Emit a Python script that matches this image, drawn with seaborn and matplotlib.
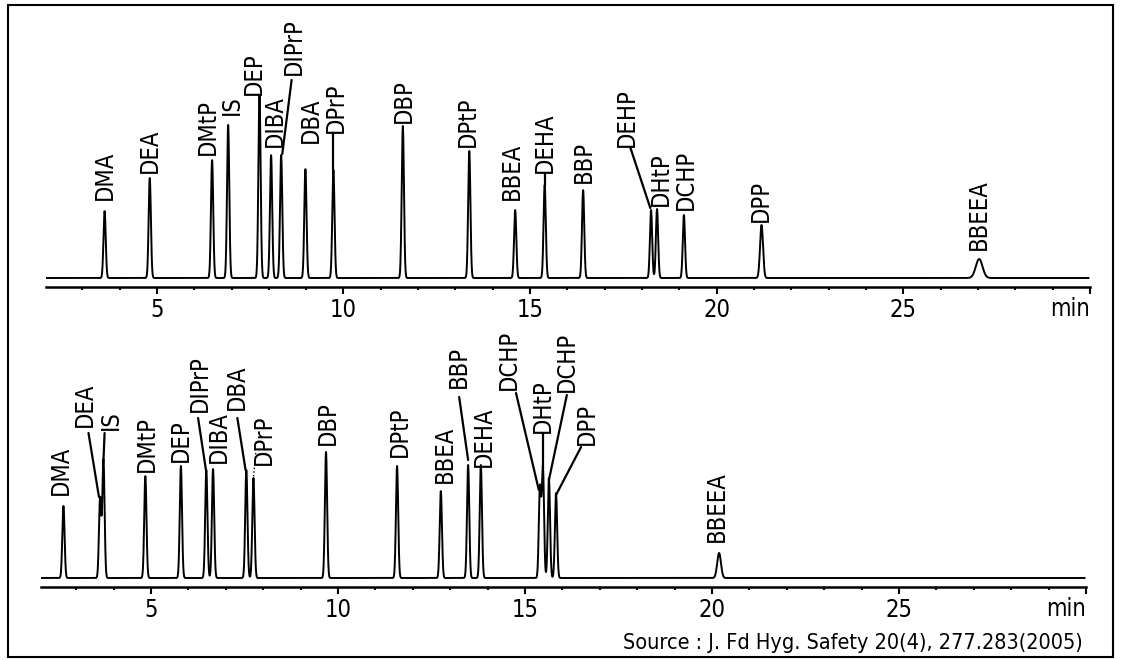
import numpy as np
import pandas as pd
import matplotlib
matplotlib.use("Agg")
import matplotlib.pyplot as plt
import seaborn as sns
from matplotlib import font_manager
from matplotlib.patches import Rectangle
from matplotlib.ticker import MultipleLocator, FixedLocator

# ---------------------------------------------------------------------------
# Peak tables
# retention time (min), peak height (px above baseline), peak sigma (min)
# ---------------------------------------------------------------------------
top_names = ["DMA", "DEA", "DMtP", "IS", "DEP", "DIBA", "DIPrP", "DBA", "DPrP", "DBP",
             "DPtP", "BBEA", "DEHA", "BBP", "DEHP", "DHtP", "DCHP", "DPP", "BBEEA"]
top_rt = [3.60, 4.81, 6.48, 6.91, 7.75, 8.06, 8.33, 8.98, 9.73, 11.59,
          13.37, 14.60, 15.39, 16.42, 18.24, 18.40, 19.12, 21.20, 27.03]
top_height = [67, 100, 118, 153, 183, 123, 123, 109, 108, 152,
              127, 68, 93, 88, 68, 69, 63, 53, 19]
top_sigma = [0.03, 0.03, 0.03, 0.03, 0.03, 0.03, 0.03, 0.03, 0.03, 0.03,
             0.03, 0.03, 0.03, 0.03, 0.03, 0.03, 0.03, 0.04, 0.09]

bot_names = ["DMA", "DEA", "IS", "DMtP", "DEP", "DIPrP", "DIBA", "DBA", "DPrP", "DBP",
             "DPtP", "BBEA", "BBP", "DEHA", "DCHP", "DHtP", "DCHP", "DPP", "BBEEA"]
bot_rt = [2.66, 3.64, 3.73, 4.85, 5.80, 6.48, 6.66, 7.55, 7.74, 9.68,
          11.58, 12.75, 13.48, 13.82, 15.40, 15.48, 15.64, 15.83, 20.19]
bot_height = [72, 80, 118, 102, 112, 108, 109, 108, 100, 126,
              112, 87, 113, 113, 90, 110, 100, 85, 25]
bot_sigma = [0.03, 0.03, 0.03, 0.03, 0.03, 0.03, 0.03, 0.03, 0.03, 0.03,
             0.03, 0.03, 0.03, 0.03, 0.03, 0.03, 0.03, 0.03, 0.05]

# label anchors (x in min, y = bottom of the rotated text)
top_label_x = [3.61, 4.81, 6.36, 7.01, 7.59, 8.16, 8.68, 9.12, 9.79, 11.63,
               13.32, 14.51, 15.40, 16.44, 17.59, 18.50, 19.17, 21.18, 27.03]
top_label_y = [78, 105, 123, 163, 183, 131, 203, 135, 145, 155,
               131, 78, 105, 95, 131, 72, 68, 56, 28]
bot_label_x = [2.59, 3.24, 3.93, 4.89, 5.80, 6.31, 6.81, 7.31, 8.02, 9.73,
               11.66, 12.85, 13.24, 13.90, 14.57, 15.48, 16.12, 16.66, 20.13]
bot_label_y = [83, 151, 148, 106, 116, 166, 115, 168, 113, 133,
               121, 95, 190, 111, 188, 145, 186, 133, 36]

# leader lines (x0, y0, x1, y1)
top_leaders = [(8.61, 198, 8.36, 124), (9.73, 145, 9.73, 108),
               (15.39, 105, 15.39, 93), (17.68, 131, 18.22, 70)]
bot_leaders = [(3.33, 145, 3.61, 81), (3.76, 145, 3.73, 118),
               (6.26, 160, 6.47, 108), (7.31, 160, 7.53, 108),
               (13.24, 181, 13.48, 118), (14.76, 185, 15.37, 88),
               (15.48, 145, 15.48, 110), (16.12, 183, 15.64, 98),
               (16.50, 131, 15.83, 83)]
bot_dotted = [(7.80, 125, 7.74, 100)]

tick_major = [5, 10, 15, 20, 25, 30]
tick_labels = ["5", "10", "15", "20", "25", ""]
source_text = "Source : J. Fd Hyg. Safety 20(4), 277.283(2005)"

# ---------------------------------------------------------------------------
sns.set_style("white")

# the scan uses a tall condensed face; take a narrow one if the box has it
narrow_fp = None
for f in font_manager.fontManager.ttflist:
    if f.name in ("Liberation Sans Narrow", "Roboto Condensed") or \
            (f.name == "DejaVu Sans" and f.stretch == "condensed" and f.style == "normal"
             and f.weight in (400, "normal")):
        narrow_fp = f
        break

if narrow_fp is not None and narrow_fp.name != "DejaVu Sans":
    plt.rcParams['font.family'] = [narrow_fp.name, "DejaVu Sans"]
    TEXT_KW = {}
    LABEL_FS, TICK_FS, SRC_FS = 18, 17.5, 16
elif narrow_fp is not None:
    plt.rcParams['font.family'] = ["DejaVu Sans"]
    TEXT_KW = {"fontstretch": "condensed"}
    LABEL_FS, TICK_FS, SRC_FS = 17, 17, 15.5
else:
    plt.rcParams['font.family'] = ["DejaVu Sans"]
    TEXT_KW = {}
    LABEL_FS, TICK_FS, SRC_FS = 14.5, 15, 13.8

W, H = 1121, 660
fig = plt.figure(figsize=(W / 100, H / 100), dpi=100)


def px_rect(x0, x1, ytop, ybot):
    return [x0 / W, 1 - ybot / H, (x1 - x0) / W, (ybot - ytop) / H]


def make_trace(rt, height, sigma, t0, t1):
    t = np.arange(t0, t1, 0.004)
    y = np.zeros_like(t)
    for r, h, s in zip(rt, height, sigma):
        y += h * np.exp(-0.5 * ((t - r) / s) ** 2)
    return pd.DataFrame({"time": t, "signal": y})


def draw_panel(ax, rt, height, sigma, names_, lx, ly, leaders, dotted, xlim, ylim):
    df = make_trace(rt, height, sigma, xlim[0], xlim[1] - 0.03)
    sns.lineplot(data=df, x="time", y="signal", ax=ax, color="black",
                 linewidth=1.4, estimator=None)
    for name, x, y in zip(names_, lx, ly):
        ax.text(x, y, name, rotation=90, ha="center", va="bottom",
                fontsize=LABEL_FS, color="black", **TEXT_KW)
    for x0, y0, x1, y1 in leaders:
        ax.plot([x0, x1], [y0, y1], color="black", linewidth=1.6)
    for x0, y0, x1, y1 in dotted:
        ax.plot([x0, x1], [y0, y1], color="black", linewidth=1.0, linestyle=":")
    ax.set_xlim(*xlim)
    ax.set_ylim(*ylim)
    ax.set_xlabel("")
    ax.set_ylabel("")
    ax.set_yticks([])
    for side in ["top", "left", "right"]:
        ax.spines[side].set_visible(False)
    ax.spines["bottom"].set_linewidth(1.8)
    ax.spines["bottom"].set_color("black")
    ax.xaxis.set_major_locator(FixedLocator(tick_major))
    ax.set_xticklabels(tick_labels, **TEXT_KW)
    ax.xaxis.set_minor_locator(MultipleLocator(1))
    ax.tick_params(axis="x", which="major", direction="out", length=5, width=1.5,
                   colors="black", labelsize=TICK_FS, pad=3, bottom=True)
    ax.tick_params(axis="x", which="minor", direction="out", length=2.5, width=1.5,
                   colors="black", bottom=True)
    ax.annotate("min", xy=(30, 0), xycoords=("data", "axes fraction"),
                xytext=(0, -10), textcoords="offset pixels", color="black",
                ha="right", va="top", fontsize=TICK_FS, **TEXT_KW)
    ax.patch.set_alpha(0)


ax_top = fig.add_axes(px_rect(46, 1090, 5, 287))
draw_panel(ax_top, top_rt, top_height, top_sigma, top_names, top_label_x, top_label_y,
           top_leaders, [], (2.03, 30.0), (-9, 273))

ax_bot = fig.add_axes(px_rect(41, 1086, 330, 587))
draw_panel(ax_bot, bot_rt, bot_height, bot_sigma, bot_names, bot_label_x, bot_label_y,
           bot_leaders, bot_dotted, (2.06, 30.0), (-9, 248))

# outer frame and source note
fig.patches.append(Rectangle((8 / W, 1 - 657 / H), 1105 / W, 652 / H,
                             transform=fig.transFigure, fill=False,
                             edgecolor="black", linewidth=1.5))
fig.text(1083 / W, 1 - 643 / H, source_text, ha="right", va="center",
         fontsize=SRC_FS, color="black", **TEXT_KW)

fig.savefig("out.png", dpi=100)
